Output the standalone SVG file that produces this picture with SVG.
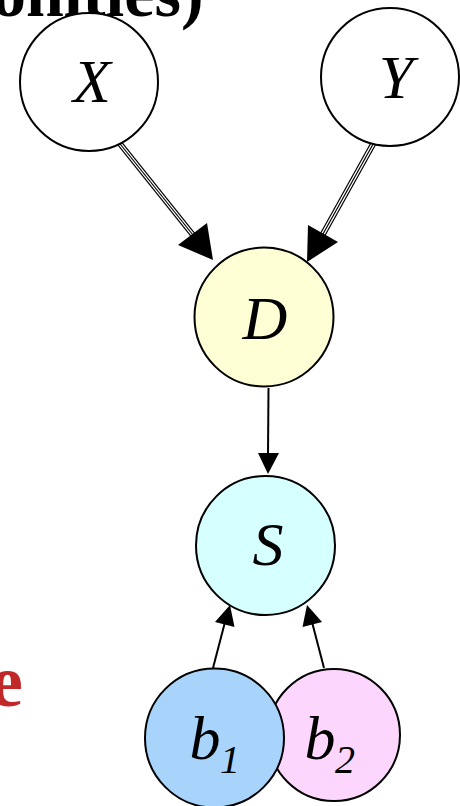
<svg xmlns="http://www.w3.org/2000/svg" width="460" height="806" viewBox="0 0 460 806">
<style>
.node{stroke:#000;stroke-width:2}
.lbl{font-family:"Liberation Serif","Times New Roman",serif;font-style:italic;font-size:62px;fill:#000;text-anchor:middle}
.sub{font-size:40px}
.edge{stroke:#000;stroke-width:2;fill:none}
.head{fill:#000;stroke:none}
.tb{stroke:#000;stroke-width:6;fill:none}
.tw{stroke:#fff;stroke-width:3.6;fill:none}
.tc{stroke:#000;stroke-width:1.2;fill:none}
</style>
<rect width="460" height="806" fill="#fff"/>
<text x="-8" y="16" font-family="Liberation Serif,serif" font-size="68" font-weight="bold" fill="#000">onities)</text>
<text x="-10" y="706" font-family="Liberation Serif,serif" font-size="74" font-weight="bold" fill="#c0282a">e</text>
<g id="connectors">
  <line class="tb" x1="117" y1="140" x2="193" y2="235"/>
  <line class="tw" x1="117" y1="140" x2="193" y2="235"/>
  <line class="tc" x1="117" y1="140" x2="193" y2="235"/>
  <polygon class="head" points="213,260 178,245 207,223"/>
  <line class="tb" x1="377" y1="137" x2="323" y2="234"/>
  <line class="tw" x1="377" y1="137" x2="323" y2="234"/>
  <line class="tc" x1="377" y1="137" x2="323" y2="234"/>
  <polygon class="head" points="307,262 308,225 338,242"/>
  <line class="edge" x1="268.5" y1="388" x2="268" y2="455"/>
  <polygon class="head" points="268,474 258,453 279,453"/>
  <line class="edge" x1="213" y1="668" x2="225" y2="622"/>
  <polygon class="head" points="230,605 234.5,627 215,622"/>
  <line class="edge" x1="324" y1="668" x2="312" y2="622"/>
  <polygon class="head" points="307,605 322,622 302.5,627"/>
</g>
<g id="X"><circle class="node" cx="89" cy="82" r="69" fill="#fff"/><text class="lbl" x="92" y="102">X</text></g>
<g id="Y"><circle class="node" cx="390" cy="77" r="69" fill="#fff"/><text class="lbl" x="396" y="98">Y</text></g>
<g id="D"><circle class="node" cx="264" cy="317" r="69.5" fill="#ffffd6"/><text class="lbl" x="265" y="339">D</text></g>
<g id="S"><circle class="node" cx="265.5" cy="545.5" r="69.5" fill="#d6ffff"/><text class="lbl" x="268" y="565">S</text></g>
<g id="b2"><circle class="node" cx="334" cy="735" r="66" fill="#fdd6fe"/><text class="lbl" x="320" y="759">b</text><text class="lbl sub" x="345" y="773">2</text></g>
<g id="b1"><circle class="node" cx="214.5" cy="738" r="69.5" fill="#a8d4fc"/><text class="lbl" x="205" y="759">b</text><text class="lbl sub" x="230" y="773">1</text></g>
</svg>
